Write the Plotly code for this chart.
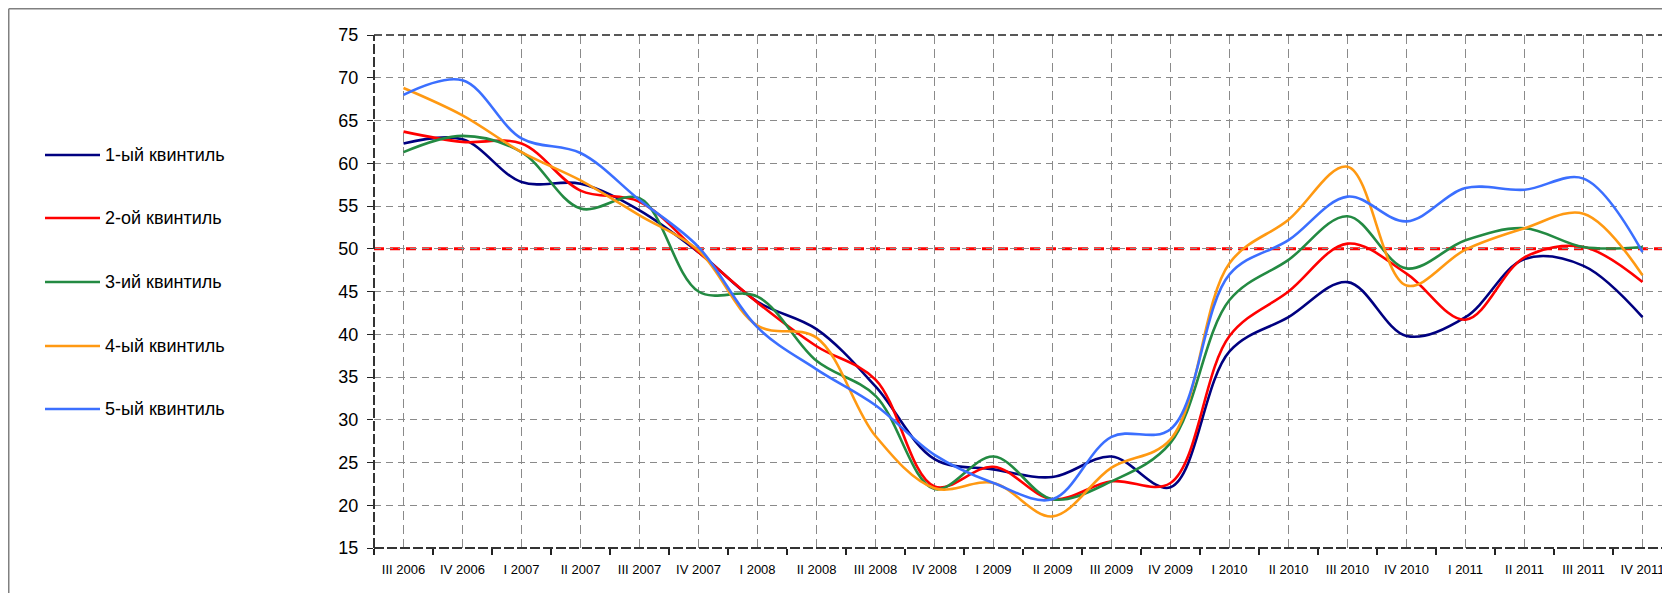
import plotly.graph_objects as go

categories = ["III 2006", "IV 2006", "I 2007", "II 2007", "III 2007", "IV 2007",
              "I 2008", "II 2008", "III 2008", "IV 2008", "I 2009", "II 2009",
              "III 2009", "IV 2009", "I 2010", "II 2010", "III 2010", "IV 2010",
              "I 2011", "II 2011", "III 2011", "IV 2011"]

q1 = [62.3, 62.8, 57.8, 57.6, 54.5, 49.6, 43.8, 40.6, 33.9, 25.4, 24.2, 23.3,
      25.7, 22.1, 38.0, 42.0, 46.1, 39.8, 42.0, 48.8, 48.0, 42.0]
q2 = [63.7, 62.5, 62.3, 56.8, 55.5, 49.6, 43.7, 38.6, 34.7, 22.2, 24.5, 20.7,
      22.8, 22.6, 39.8, 45.0, 50.6, 47.1, 41.7, 49.0, 50.2, 46.1]
q3 = [61.3, 63.2, 61.3, 54.7, 55.9, 45.0, 44.4, 36.9, 32.8, 21.9, 25.7, 20.7,
      22.8, 27.3, 44.0, 48.7, 53.8, 47.7, 51.0, 52.4, 50.2, 50.2]
q4 = [68.8, 65.6, 61.3, 58.0, 53.9, 49.8, 41.0, 39.6, 28.1, 22.0, 22.6, 18.7,
      24.4, 27.7, 48.3, 53.4, 59.6, 45.7, 49.9, 52.4, 54.1, 46.9]
q5 = [68.0, 69.7, 62.9, 61.2, 55.7, 50.2, 40.8, 35.9, 31.7, 25.9, 22.6, 20.7,
      28.0, 28.9, 47.0, 51.0, 56.1, 53.2, 57.1, 56.9, 58.2, 49.6]

series_names = ["1-ый квинтиль", "2-ой квинтиль", "3-ий квинтиль", "4-ый квинтиль", "5-ый квинтиль"]
series_values = [q1, q2, q3, q4, q5]
series_colors = ["#000080", "#FF0000", "#238A42", "#FF9912", "#3B6FFF"]
threshold = 50

x_idx = list(range(len(categories)))

# page body has an 8px default margin: lay out in window pixels, then shift
OFF = 8
W, H = 1670 - OFF, 593 - OFF
L, T, R = 374 - OFF, 35 - OFF, 0
B = H - (548 - OFF)
pw = W - L - R
ph = H - T - B


def px_x(wx):
    return (wx - OFF - L) / pw


def px_y(wy):
    return (H - B - (wy - OFF)) / ph


fig = go.Figure()
for name, vals, col in zip(series_names, series_values, series_colors):
    fig.add_trace(go.Scatter(
        x=x_idx, y=vals, name=name, mode="lines",
        line=dict(color=col, width=2.6, shape="spline", smoothing=1.0),
        showlegend=False,
    ))

shapes = [
    dict(type="line", xref="paper", x0=0, x1=1, yref="y", y0=threshold, y1=threshold,
         line=dict(color="#FF0000", width=3, dash="10px,6px"), layer="between"),
    dict(type="line", xref="paper", x0=0, x1=1, yref="paper", y0=1, y1=1,
         line=dict(color="#222222", width=1.3, dash="8px,4px"), layer="above"),
    dict(type="line", xref="paper", x0=0, x1=0, yref="paper", y0=0, y1=1,
         line=dict(color="#333333", width=2, dash="10px,3px"), layer="above"),
    dict(type="line", xref="paper", x0=0, x1=1, yref="paper", y0=0, y1=0,
         line=dict(color="#333333", width=2, dash="10px,3px"), layer="above"),
    # outer chart frame
    dict(type="line", xref="paper", x0=px_x(OFF + 0.75), x1=px_x(1680), yref="paper",
         y0=px_y(OFF + 0.75), y1=px_y(OFF + 0.75), line=dict(color="#808080", width=1.5)),
    dict(type="line", xref="paper", x0=px_x(OFF + 0.75), x1=px_x(OFF + 0.75), yref="paper",
         y0=px_y(OFF + 0.75), y1=px_y(600), line=dict(color="#808080", width=1.5)),
]

annotations = []
legend_y = [155, 218, 282, 346, 409]
for name, col, ly in zip(series_names, series_colors, legend_y):
    shapes.append(dict(type="line", xref="paper", yref="paper",
                       x0=px_x(45), x1=px_x(100), y0=px_y(ly), y1=px_y(ly),
                       line=dict(color=col, width=2.6)))
    annotations.append(dict(xref="paper", yref="paper", x=px_x(103), y=px_y(ly),
                            xanchor="left", yanchor="middle", showarrow=False,
                            text=name, font=dict(size=18, color="#000000")))

fig.update_layout(
    width=W, height=H,
    margin=dict(l=L, r=R, t=T, b=B, pad=0),
    paper_bgcolor="white", plot_bgcolor="white",
    font=dict(family="Liberation Sans, Arial, sans-serif", color="#000000"),
    showlegend=False,
    shapes=shapes,
    annotations=annotations,
)

fig.update_xaxes(
    range=[-0.5, -0.5 + pw / 59.0],
    tickmode="array", tickvals=x_idx, ticktext=categories,
    ticks="", showline=False, zeroline=False,
    showgrid=True, gridcolor="#8A8A8A", gridwidth=1, griddash="9px,5px",
    tickfont=dict(size=13, color="#000000"),
    ticklabelstandoff=12,
    minor=dict(ticks="outside", ticklen=6, tickcolor="#222222", tickwidth=1.5,
               tick0=0.5, dtick=1, showgrid=False),
)

fig.update_yaxes(
    range=[15, 75], dtick=5, tick0=15,
    ticks="outside", ticklen=6, tickcolor="#222222", tickwidth=1.2,
    showline=False, zeroline=False,
    showgrid=True, gridcolor="#8A8A8A", gridwidth=1, griddash="7px,5px",
    tickfont=dict(size=18, color="#000000"),
    ticklabelstandoff=5,
)

fig.write_html("out.html")
